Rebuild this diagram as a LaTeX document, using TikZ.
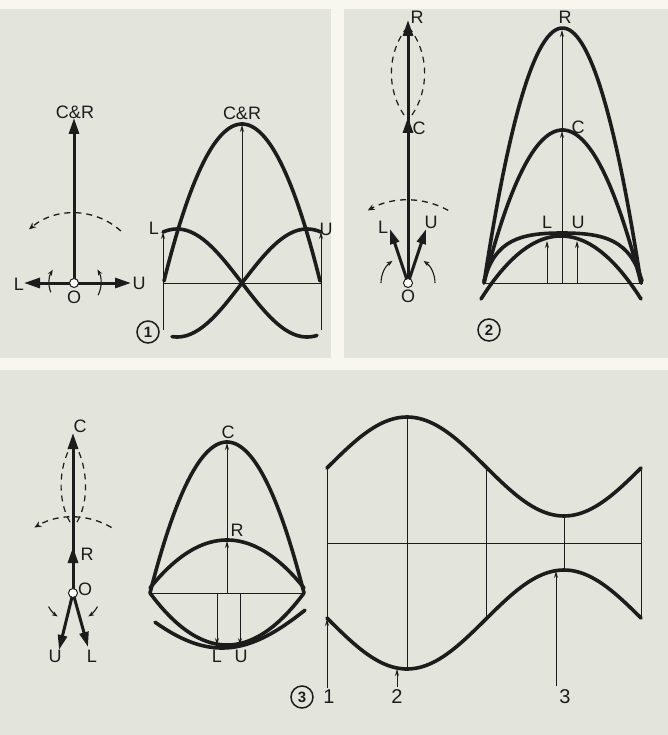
\documentclass[tikz,border=0pt]{standalone}
\usepackage{fontspec}
\setmainfont{Liberation Sans}
\usetikzlibrary{arrows.meta,calc}
\definecolor{panel}{HTML}{E3E4DC}
\definecolor{paper}{HTML}{F7F7EF}
\definecolor{ink}{HTML}{1C1C1C}
\begin{document}
\begin{tikzpicture}[x=1pt,y=-1pt,
  thickc/.style={draw=ink,line width=3.6pt,line cap=round},
  thinl/.style={draw=ink,line width=0.8pt},
  thinarrow/.style={draw=ink,line width=0.8pt,-{Stealth[length=7pt,width=4pt]}},
  phasor/.style={draw=ink,line width=3pt,-{Triangle[length=16pt,width=10pt]}},
  phasorb/.style={draw=ink,line width=3pt,-{Triangle[length=15pt,width=9pt]}},
  dasharc/.style={draw=ink,line width=1.3pt,dash pattern=on 6pt off 5pt,-{Stealth[length=7pt,width=6pt]}},
  dashlens/.style={draw=ink,line width=1.2pt,dash pattern=on 6pt off 5pt},
  rotarrow/.style={draw=ink,line width=1.1pt,-{Stealth[length=6pt,width=4.5pt]}},
  ocirc/.style={circle,draw=ink,fill=white,line width=1pt,minimum size=9pt,inner sep=0pt},
  lbl/.style={font=\fontsize{18}{18}\selectfont,inner sep=0pt,text=ink},
  dig/.style={font=\fontsize{20}{20}\selectfont,inner sep=0pt,text=ink},
  circnum/.style={circle,draw=ink,line width=1.5pt,minimum size=22pt,inner sep=0pt,font=\fontsize{15}{15}\selectfont\bfseries,text=ink}
]
\fill[paper] (0,0) rectangle (668,735);
\useasboundingbox (0,0) rectangle (668,735);
\fill[panel] (0,9) rectangle (331,358);
\fill[panel] (344,9) rectangle (668,358);
\fill[panel] (0,370) rectangle (668,735);

%%%%%%%%%%%%%%%% Panel 1 %%%%%%%%%%%%%%%%
\coordinate (O1) at (74,283);
\coordinate (CR1) at (74,118);
\coordinate (L1) at (24,283);
\coordinate (U1) at (131,283);
\draw[dasharc] ($(O1)+(-48:70)$) arc[start angle=-48,end angle=-130,radius=70];
\draw[rotarrow] ($(O1)+(158:25)$) arc[start angle=158,end angle=212,radius=25];
\draw[rotarrow] ($(O1)+(27:27)$) arc[start angle=27,end angle=-30,radius=27];
\draw[phasor] (O1) -- (CR1);
\draw[phasor] (O1) -- (L1);
\draw[phasor] (O1) -- (U1);
\node[ocirc] (o1) at (O1) {};
\node[lbl] (cr1) at (75,112) {C\&R};
\node[lbl] (l1) at (19,284) {L};
\node[lbl] (u1) at (139,283) {U};
\node[lbl] (ol1) at (74,297) {O};

% graph 1
\coordinate (B1l) at (163,283);
\coordinate (B1r) at (321,283);
\coordinate (B1c) at (242,283);
\coordinate (T1) at (242,125);
\coordinate (P1l) at (163,232);
\coordinate (P1r) at (321,232);
\coordinate (D1l) at (163,330);
\coordinate (D1r) at (321,330);
\draw[thinl] (B1l) -- (B1r);
\draw[thinarrow] (B1c) -- (T1);
\draw[thinarrow] (D1l) -- (P1l);
\draw[thinarrow] (D1r) -- (P1r);
\draw[thickc] plot[domain=164:320,samples=60,smooth] (\x,{124+159*((\x-242)/78.5)^2});
\draw[thickc] plot[domain=163:317,samples=60,smooth] (\x,{283-54*cos((\x-177)/260*360)});
\draw[thickc] plot[domain=172:321,samples=60,smooth] (\x,{283-54*cos((307-\x)/260*360)});
\node[lbl] (cr1b) at (242,113) {C\&R};
\node[lbl] (l1b) at (154,228) {L};
\node[lbl] (u1b) at (326,229) {U};
\node[circnum] (n1) at (148,332) {1};

%%%%%%%%%%%%%%%% Panel 2 %%%%%%%%%%%%%%%%
\coordinate (O2) at (408,283);
\coordinate (R2) at (408,20);
\coordinate (C2) at (408,117);
\coordinate (L2) at (390,229);
\coordinate (U2) at (426,229);
\draw[dashlens] (404,115) .. controls (387,90) and (387,55) .. (405,30);
\draw[dashlens] (412,115) .. controls (429,90) and (429,55) .. (411,30);
\draw[dasharc] ($(O2)+(-61:83)$) arc[start angle=-61,end angle=-119,radius=83];
\draw[rotarrow] ($(O2)+(180:27)$) arc[start angle=180,end angle=235,radius=27];
\draw[rotarrow] ($(O2)+(0:27)$) arc[start angle=0,end angle=-55,radius=27];
\draw[phasor] (O2) -- (R2);
\draw[phasor] (O2) -- (C2);
\draw[phasorb] (O2) -- (L2);
\draw[phasorb] (O2) -- (U2);
\node[ocirc] (o2) at (O2) {};
\node[lbl] (r2) at (417,17) {R};
\node[lbl] (c2) at (419,128) {C};
\node[lbl] (l2) at (383,227) {L};
\node[lbl] (u2) at (431,222) {U};
\node[lbl] (ol2) at (408,296) {O};

% graph 2
\coordinate (B2l) at (483,283);
\coordinate (B2r) at (643,283);
\coordinate (B2c) at (562,283);
\coordinate (C2g) at (562,131);
\coordinate (R2g) at (562,30);
\coordinate (L2b) at (547,283);
\coordinate (L2t) at (547,241);
\coordinate (U2b) at (577,283);
\coordinate (U2t) at (577,241);
\draw[thinl] (B2l) -- (B2r);
\draw[thinarrow] (B2c) -- (C2g);
\draw[thinarrow] (C2g) -- (R2g);
\draw[thinarrow] (L2b) -- (L2t);
\draw[thinarrow] (U2b) -- (U2t);
\draw[thickc] plot[domain=484:641,samples=60,smooth] (\x,{28+255*((\x-562.5)/78.5)^2});
\draw[thickc] plot[domain=484:641,samples=60,smooth] (\x,{130+153*((\x-562.5)/78.5)^2});
\draw[thickc] (484,281) .. controls (495,240) and (520,233) .. (562,233)
                        .. controls (605,233) and (630,240) .. (642,281);
\draw[thickc] plot[domain=481:641,samples=60,smooth] (\x,{236+63*((\x-561)/80)^2});
\node[lbl] (r2b) at (565,17) {R};
\node[lbl] (c2b) at (578,127) {C};
\node[lbl] (l2b) at (547,222) {L};
\node[lbl] (u2b) at (578,222) {U};
\node[circnum] (n2) at (489,330) {2};

%%%%%%%%%%%%%%%% Panel 3 %%%%%%%%%%%%%%%%
\coordinate (O3) at (73,593);
\coordinate (C3) at (73,433);
\coordinate (R3) at (73,547);
\coordinate (U3) at (59,650);
\coordinate (L3) at (88,647);
\draw[dashlens] (70,522) .. controls (57,500) and (59,466) .. (71,446);
\draw[dashlens] (77,522) .. controls (90,500) and (87,466) .. (76,446);
\draw[dasharc] ($(O3)+(-59.5:76)$) arc[start angle=-59.5,end angle=-120.5,radius=76];
\draw[rotarrow] ($(O3)+(151:28)$) arc[start angle=151,end angle=123,radius=28];
\draw[rotarrow] ($(O3)+(29:28)$) arc[start angle=29,end angle=57,radius=28];
\draw[phasor] (O3) -- (C3);
\draw[phasor] (O3) -- (R3);
\draw[phasorb] (O3) -- (U3);
\draw[phasorb] (O3) -- (L3);
\node[ocirc] (o3) at (O3) {};
\node[lbl] (c3) at (80,426) {C};
\node[lbl] (r3) at (87,554) {R};
\node[lbl] (ol3) at (85,589) {O};
\node[lbl] (u3) at (55,656) {U};
\node[lbl] (l3) at (92,656) {L};

% graph 3 (middle)
\coordinate (B3l) at (149,593);
\coordinate (B3r) at (304,593);
\coordinate (B3c) at (227,593);
\coordinate (R3g) at (227,541);
\coordinate (C3g) at (227,443);
\coordinate (L3t) at (217,593);
\coordinate (L3b) at (217,645);
\coordinate (U3t) at (240,593);
\coordinate (U3b) at (240,645);
\draw[thinl] (B3l) -- (B3r);
\draw[thinarrow] (B3c) -- (R3g);
\draw[thinarrow] (R3g) -- (C3g);
\draw[thinarrow] (L3t) -- (L3b);
\draw[thinarrow] (U3t) -- (U3b);
\draw[thickc] plot[domain=150:304,samples=60,smooth] (\x,{442+151*((\x-227)/77)^2});
\draw[thickc] plot[domain=150:304,samples=60,smooth] (\x,{540+48*((\x-227)/77)^2});
\draw[thickc] plot[domain=150:304,samples=60,smooth] (\x,{645-52*((\x-227)/77)^2});
\draw[thickc] plot[domain=155:305,samples=60,smooth] (\x,{593+55*cos((\x-222)/416*360)});
\node[lbl] (c3b) at (228,432) {C};
\node[lbl] (r3b) at (237,530) {R};
\node[lbl] (l3b) at (217,656) {L};
\node[lbl] (u3b) at (241,656) {U};
\node[circnum] (n3) at (302,697) {3};

% graph 3 (envelope)
\coordinate (A3l) at (327,543);
\coordinate (A3r) at (641,543);
\draw[thinl] (A3l) -- (A3r);
\coordinate (V1t) at (327,468);
\coordinate (V1b) at (327,618);
\coordinate (V2t) at (407,417);
\coordinate (V2b) at (407,669);
\coordinate (V3t) at (486,467);
\coordinate (V3b) at (486,619);
\coordinate (V4t) at (564,516);
\coordinate (V4b) at (564,570);
\coordinate (V5t) at (641,468);
\coordinate (V5b) at (641,618);
\draw[thinl] (V1t) -- (V1b);
\draw[thinl] (V2t) -- (V2b);
\draw[thinl] (V3t) -- (V3b);
\draw[thinl] (V4t) -- (V4b);
\draw[thinl] (V5t) -- (V5b);
\draw[thickc] plot[domain=327:641,samples=90,smooth] (\x,{543-(76.5+49.5*cos((\x-407)/314*360))});
\draw[thickc] plot[domain=327:641,samples=90,smooth] (\x,{543+(76.5+49.5*cos((\x-407)/314*360))});
\coordinate (M1) at (327,619);
\coordinate (M2) at (397,669);
\coordinate (M3) at (556,571);
\node[dig] (d1) at (329,697) {1};
\node[dig] (d2) at (397,697) {2};
\node[dig] (d3) at (565,697) {3};
\draw[thinarrow] (327,688) -- (M1);
\draw[thinarrow] (397,687) -- (M2);
\draw[thinarrow] (556,686) -- (M3);
\end{tikzpicture}
\end{document}
